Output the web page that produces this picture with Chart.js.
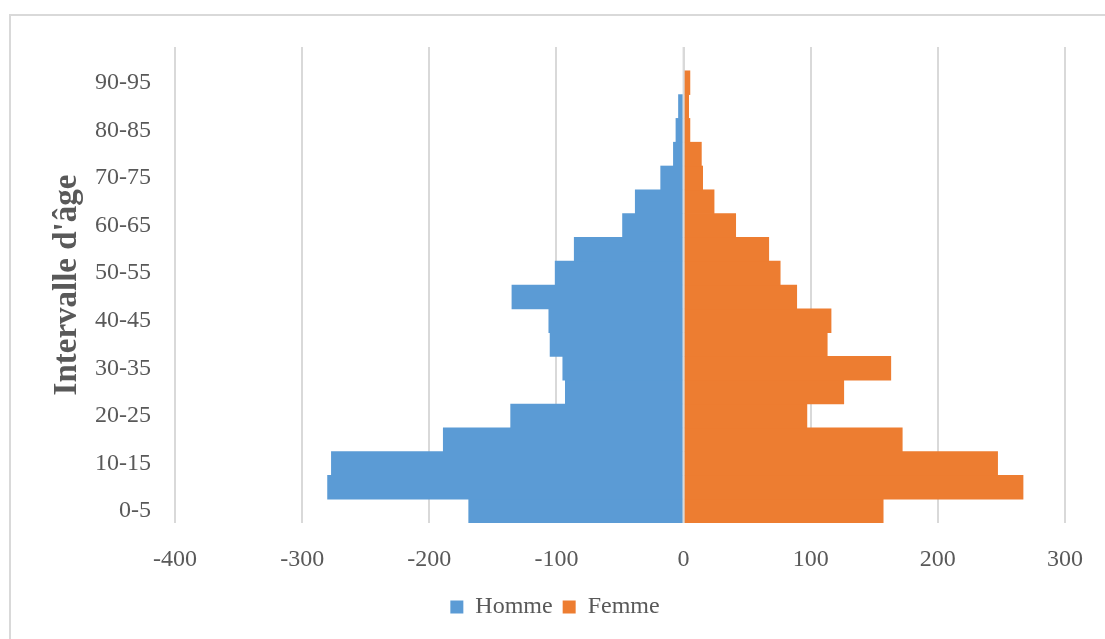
<!DOCTYPE html>
<html>
<head>
<meta charset="utf-8">
<script src="https://cdn.jsdelivr.net/npm/chart.js@4.4.1/dist/chart.umd.min.js"></script>
<style>
    html, body { margin: 0; padding: 0; background: #fff; overflow: hidden; }
    #frame {
        position: absolute; left: 9px; top: 14px;
        width: 1200px; height: 700px;
        border: 2px solid #d9d9d9;
    }
    #pyramid { position: absolute; left: 0; top: 0; }
</style>
</head>
<body>
<div id="frame"></div>
<canvas id="pyramid" width="1105" height="639"></canvas>
<script>
// age groups, bottom to top
var categories = ['0-5', '5-10', '10-15', '15-20', '20-25', '25-30', '30-35', '35-40', '40-45', '45-50',
    '50-55', '55-60', '60-65', '65-70', '70-75', '75-80', '80-85', '85-90', '90-95', '95-100'];

// men are plotted as negative values on the left
var homme = [-169, -280, -277, -189, -136, -93, -95, -105, -106, -135,
    -101, -86, -48, -38, -18, -8, -6, -4, 0, 0];
var femme = [157, 267, 247, 172, 97, 126, 163, 113, 116, 89,
    76, 67, 41, 24, 15, 14, 5, 4, 5, 0];

var xTicks = [-400, -300, -200, -100, 0, 100, 200, 300];

var axisFont = { family: '"Liberation Serif", "Times New Roman", serif', size: 24 };
var textColor = '#595959';

// redraw the zero gridline above the bars so it splits the two sides
var zeroLine = {
    id: 'zeroLine',
    afterDatasetsDraw: function(chart) {
        var x = chart.scales.x.getPixelForValue(0);
        var area = chart.chartArea;
        var ctx = chart.ctx;
        ctx.save();
        ctx.strokeStyle = '#d9d9d9';
        ctx.lineWidth = 2;
        ctx.beginPath();
        ctx.moveTo(x, area.top);
        ctx.lineTo(x, area.bottom);
        ctx.stroke();
        ctx.restore();
    }
};

var ctx = document.getElementById('pyramid').getContext('2d');
new Chart(ctx, {
    type: 'bar',
    data: {
        labels: categories,
        datasets: [
            { label: 'Homme', data: homme, backgroundColor: '#5B9BD5', borderWidth: 0 },
            { label: 'Femme', data: femme, backgroundColor: '#ED7D31', borderWidth: 0 }
        ]
    },
    options: {
        indexAxis: 'y',
        responsive: false,
        animation: false,
        barPercentage: 1,
        categoryPercentage: 1,
        layout: { padding: { left: 40, right: 35, top: 47, bottom: 10 } },
        scales: {
            x: {
                stacked: true,
                min: xTicks[0],
                max: xTicks[xTicks.length - 1],
                afterBuildTicks: function(scale) {
                    scale.ticks = xTicks.map(function(v) { return { value: v }; });
                },
                afterFit: function(scale) { scale.height = 62; },
                grid: { color: '#d9d9d9', lineWidth: 2, drawTicks: false },
                border: { display: false },
                ticks: {
                    padding: 22,
                    color: textColor,
                    font: axisFont,
                    callback: function(v) { return String(v); }
                }
            },
            y: {
                stacked: true,
                reverse: true,
                afterFit: function(scale) { scale.width = 135; },
                grid: { display: false, drawTicks: false },
                border: { display: false },
                ticks: {
                    autoSkip: false,
                    padding: 24,
                    color: textColor,
                    font: axisFont,
                    callback: function(v, i) { return i % 2 === 0 && i < 19 ? categories[i] : ''; }
                },
                title: {
                    display: true,
                    text: "Intervalle d'âge",
                    color: textColor,
                    padding: { top: 8, bottom: 0 },
                    font: { family: '"Liberation Serif", "Times New Roman", serif', size: 33, weight: 'bold' }
                }
            }
        },
        plugins: {
            legend: {
                position: 'bottom',
                labels: {
                    boxWidth: 13,
                    boxHeight: 13,
                    padding: 10,
                    color: textColor,
                    font: axisFont
                }
            },
            tooltip: { enabled: false }
        }
    },
    plugins: [zeroLine]
});
</script>
</body>
</html>
